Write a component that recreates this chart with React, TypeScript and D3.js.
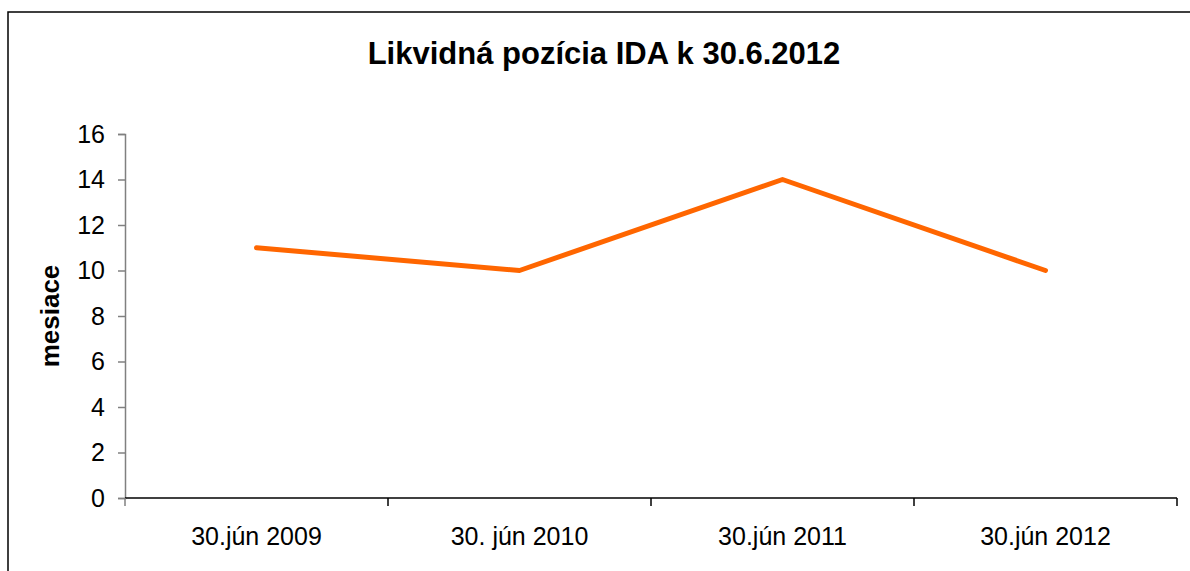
import React, { useEffect, useRef } from 'react';
import * as d3 from 'd3';

const categories = ['30.jún 2009', '30. jún 2010', '30.jún 2011', '30.jún 2012'];
const values = [11, 10, 14, 10];
const yTicks = [0, 2, 4, 6, 8, 10, 12, 14, 16];

const W = 1190, H = 571;
const margin = { left: 125, right: 13, top: 134, bottom: 73 };

const App = () => {
    const ref = useRef<SVGGElement>(null);

    useEffect(() => {
        const g = d3.select(ref.current);
        g.selectAll('*').remove();

        const x = d3.scaleBand<string>()
            .domain(categories)
            .range([margin.left, W - margin.right]);

        const y = d3.scaleLinear()
            .domain([0, 16])
            .range([H - margin.bottom, margin.top]);

        const font = '"Liberation Sans", Arial, sans-serif';

        // frame
        g.append('rect')
            .attr('x', 8).attr('y', 12)
            .attr('width', W).attr('height', H)
            .attr('fill', 'none').attr('stroke', '#000').attr('stroke-width', 1.5);

        // title
        g.append('text')
            .attr('x', 604).attr('y', 64)
            .attr('text-anchor', 'middle')
            .attr('font-family', font).attr('font-size', 31).attr('font-weight', 'bold')
            .text('Likvidná pozícia IDA k 30.6.2012');

        // y axis
        const yAxis = g.append('g')
            .attr('transform', `translate(${margin.left},0)`)
            .call(d3.axisLeft(y).tickValues(yTicks).tickSize(7).tickPadding(13));
        yAxis.select('.domain').attr('stroke', '#808080').attr('stroke-width', 1.5);
        yAxis.selectAll('.tick line').attr('stroke', '#808080').attr('stroke-width', 1.5);
        yAxis.selectAll('.tick text')
            .attr('font-family', font).attr('font-size', 25).attr('fill', '#000');

        // x axis
        const x0 = margin.left, x1 = W - margin.right, yb = y(0);
        const xAxis = g.append('g');
        xAxis.append('line')
            .attr('x1', x0).attr('x2', x1).attr('y1', yb).attr('y2', yb)
            .attr('stroke', '#000').attr('stroke-width', 1.5);
        const bounds = categories.map(c => x(c) as number).concat([x1]);
        xAxis.selectAll('line.tk').data(bounds).enter().append('line')
            .attr('class', 'tk')
            .attr('x1', d => d).attr('x2', d => d)
            .attr('y1', yb).attr('y2', yb + 8)
            .attr('stroke', (d, i) => i === 0 ? '#808080' : '#000').attr('stroke-width', 1.5);
        xAxis.selectAll('text').data(categories).enter().append('text')
            .attr('x', d => (x(d) as number) + x.bandwidth() / 2)
            .attr('y', yb + 47)
            .attr('text-anchor', 'middle')
            .attr('font-family', font).attr('font-size', 25)
            .text(d => d);

        // y title
        g.append('text')
            .attr('transform', `translate(59,${(y(0) + y(16)) / 2}) rotate(-90)`)
            .attr('text-anchor', 'middle')
            .attr('font-family', font).attr('font-size', 26).attr('font-weight', 'bold')
            .text('mesiace');

        // line
        const line = d3.line<number>()
            .x((d, i) => (x(categories[i]) as number) + x.bandwidth() / 2)
            .y(d => y(d));
        g.append('path')
            .attr('d', line(values))
            .attr('fill', 'none').attr('stroke', '#FF6600').attr('stroke-width', 5)
            .attr('stroke-linejoin', 'round').attr('stroke-linecap', 'round');
    }, []);

    return (
        <svg width={W} height={H} style={{ position: 'absolute', left: 0, top: 0, background: '#fff' }}>
            <g ref={ref} />
        </svg>
    );
};

export default App;
